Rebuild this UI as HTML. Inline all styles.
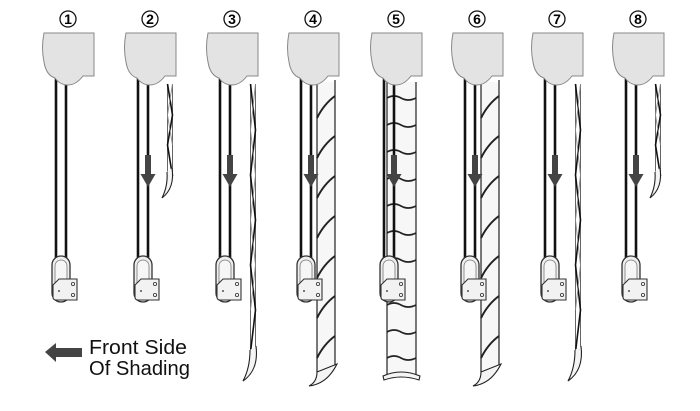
<!DOCTYPE html>
<html><head><meta charset="utf-8"><style>
html,body{margin:0;padding:0;background:#fff;width:700px;height:411px;overflow:hidden}
svg{display:block}
text{font-family:"Liberation Sans",sans-serif}
</style></head><body>
<svg width="700" height="411" viewBox="0 0 700 411" xmlns="http://www.w3.org/2000/svg">
<defs>
<g id="base">
  <line x1="14" y1="78" x2="14" y2="262" stroke="#111" stroke-width="2.6"/>
  <line x1="24" y1="82" x2="24" y2="262" stroke="#111" stroke-width="2.6"/>
  <path d="M2,33 H52 V76 H41 Q34,85 26,85 Q18,85 13,78 Q4,75 2,62 Q-1,48 2,33 Z" fill="#e3e3e3" stroke="#888" stroke-width="1"/>
  <rect x="10" y="256" width="18" height="46" rx="9" fill="#eee" stroke="#333" stroke-width="1.3"/>
  <rect x="13" y="260" width="12" height="38" rx="6" fill="#f6f6f6" stroke="#777" stroke-width="0.8"/>
  <path d="M11,285 L17,279 H35 V300 H14 Q11,300 11,297 Z" fill="#f2f2f2" stroke="#333" stroke-width="1.1"/>
  <circle cx="17" cy="291" r="0.9" fill="#222"/>
  <circle cx="31" cy="284" r="1.6" fill="none" stroke="#333" stroke-width="0.8"/>
  <circle cx="31" cy="295" r="1.6" fill="none" stroke="#333" stroke-width="0.8"/>
</g>
<g id="arrow">
  <rect x="21" y="155" width="6" height="20" fill="#444"/>
  <path d="M16.5,174 H31.5 L24,187 Z" fill="#444"/>
</g>
<g id="thinLong">
  <path d="M44.5,84 V352 M49.5,84 V350" stroke="#555" stroke-width="0.9" fill="none"/>
  <path d="M44.5,84 L49.5,130 L44.5,175 L49.5,220 L44.5,265 L49.5,310 L44.5,352" stroke="#111" stroke-width="1.6" fill="none"/>
  <path d="M49.5,84 L44.5,130 L49.5,175 L44.5,220 L49.5,265 L44.5,310" stroke="#888" stroke-width="0.9" fill="none"/>
  <path d="M50,346 Q53,370 37,381 Q44,368 44,350" fill="#f4f4f4" stroke="#222" stroke-width="1.1"/>
</g>
<g id="thinShort">
  <path d="M43.5,84 V176 M48.5,84 V174" stroke="#555" stroke-width="0.9" fill="none"/>
  <path d="M43.5,84 L48.5,115 L43.5,145 L48.5,176" stroke="#111" stroke-width="1.6" fill="none"/>
  <path d="M48.5,84 L43.5,115 L48.5,145" stroke="#888" stroke-width="0.9" fill="none"/>
  <path d="M48,168 Q51,188 38,198 Q44,186 43,172" fill="#f4f4f4" stroke="#222" stroke-width="1.1"/>
</g>
<g id="wide">
  <rect x="30" y="82" width="18" height="290" fill="#f7f7f7"/>
  <path d="M30,83 V372 M48,80 V368" stroke="#222" stroke-width="1.2" fill="none"/>
  <g stroke="#222" stroke-width="2" fill="none">
  <path d="M30,118 Q37,104 48,96"/><path d="M30,158 Q37,144 48,136"/><path d="M30,198 Q37,184 48,176"/>
  <path d="M30,238 Q37,224 48,216"/><path d="M30,278 Q37,264 48,256"/><path d="M30,318 Q37,304 48,296"/>
  <path d="M30,358 Q37,344 48,336"/>
  </g>
  <path d="M30,372 Q30,382 22,386 Q40,384 50,364 Z" fill="#f4f4f4" stroke="#222" stroke-width="1.1"/>
</g>
</defs>

<g font-size="14" font-weight="bold" text-anchor="middle">
<g fill="none" stroke="#111" stroke-width="1.3">
<circle cx="68" cy="19" r="8"/><circle cx="150" cy="19" r="8"/><circle cx="232" cy="19" r="8"/><circle cx="313" cy="19" r="8"/>
<circle cx="396" cy="19" r="8"/><circle cx="477" cy="19" r="8"/><circle cx="557" cy="19" r="8"/><circle cx="638" cy="19" r="8"/>
</g>
<text x="68" y="24">1</text><text x="150" y="24">2</text><text x="232" y="24">3</text><text x="313" y="24">4</text>
<text x="396" y="24">5</text><text x="477" y="24">6</text><text x="557" y="24">7</text><text x="638" y="24">8</text>
</g>

<g transform="translate(42,0)"><use href="#base"/></g>
<g transform="translate(124,0)"><use href="#thinShort"/><use href="#base"/><use href="#arrow"/></g>
<g transform="translate(206,0)"><use href="#thinLong"/><use href="#base"/><use href="#arrow"/></g>
<g transform="translate(287,0)"><use href="#wide"/><use href="#base"/><use href="#arrow"/></g>
<g transform="translate(370,0)">
  <rect x="17" y="82" width="29" height="292" fill="#f7f7f7"/>
  <path d="M17,82 V374 M46,82 V374" stroke="#222" stroke-width="1.2" fill="none"/>
  <g stroke="#222" stroke-width="1.7" fill="none">
    <path d="M17,98 q7,-4 14,0 t15,0"/><path d="M17,125 q7,-4 14,0 t15,0"/><path d="M17,152 q7,-4 14,0 t15,0"/>
    <path d="M17,179 q7,-4 14,0 t15,0"/><path d="M17,206 q7,-4 14,0 t15,0"/><path d="M17,233 q7,-4 14,0 t15,0"/>
    <path d="M17,260 q7,-4 14,0 t15,0"/><path d="M17,305 q7,-4 14,0 t15,0"/><path d="M17,332 q7,-4 14,0 t15,0"/>
    <path d="M17,358 q7,-4 14,0 t15,0"/>
  </g>
  <path d="M13,376 Q31,368 50,376 L49,380 Q31,374 14,380 Z" fill="#f4f4f4" stroke="#222" stroke-width="1.1"/>
  <use href="#base"/><use href="#arrow"/>
</g>
<g transform="translate(451,0)"><use href="#wide"/><use href="#base"/><use href="#arrow"/></g>
<g transform="translate(531,0)"><use href="#thinLong"/><use href="#base"/><use href="#arrow"/></g>
<g transform="translate(612,0)"><use href="#thinShort"/><use href="#base"/><use href="#arrow"/></g>

<path d="M45,352 L56,343 V348 H82 V357 H56 V362 Z" fill="#444"/>
<text x="89" y="354" font-size="20" fill="#111" textLength="98" lengthAdjust="spacingAndGlyphs">Front Side</text>
<text x="89" y="375" font-size="20" fill="#111" textLength="101" lengthAdjust="spacingAndGlyphs">Of Shading</text>
</svg>
</body></html>
